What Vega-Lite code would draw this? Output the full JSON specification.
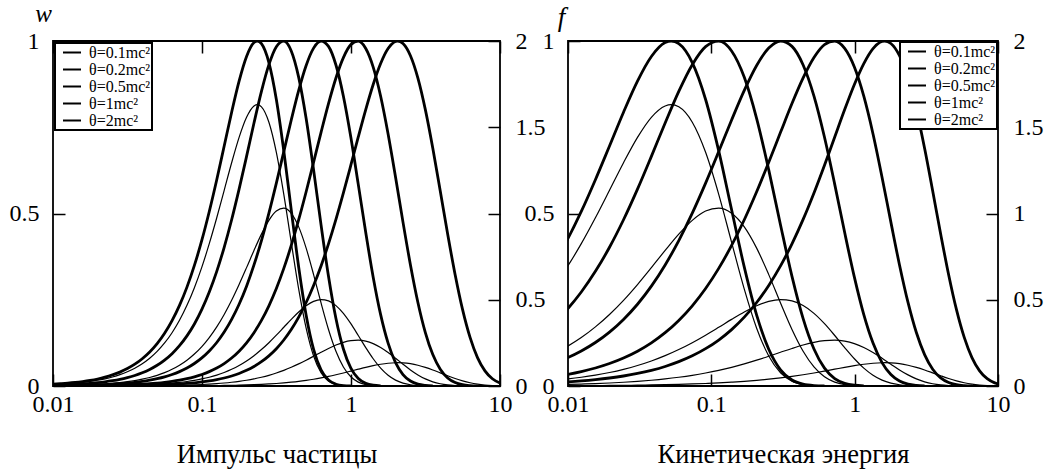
{
"$schema":"https://vega.github.io/schema/vega-lite/v6.json",
"padding":{"left":8,"top":0,"right":4,"bottom":4},
"background":"white",
"data":{"values":[
{"t":"0.1","p":0.009976,"e":0.0000995,"g":0.0051,"h":0.0084},
{"t":"0.1","p":0.01119,"e":0.000125,"g":0.0065,"h":0.0105},
{"t":"0.1","p":0.01256,"e":0.000158,"g":0.0081,"h":0.0133},
{"t":"0.1","p":0.01409,"e":0.000199,"g":0.0102,"h":0.0167},
{"t":"0.1","p":0.01581,"e":0.00025,"g":0.0129,"h":0.021},
{"t":"0.1","p":0.01774,"e":0.000315,"g":0.0162,"h":0.0264},
{"t":"0.1","p":0.01991,"e":0.000396,"g":0.0203,"h":0.0332},
{"t":"0.1","p":0.02233,"e":0.000499,"g":0.0255,"h":0.0417},
{"t":"0.1","p":0.02506,"e":0.000628,"g":0.0321,"h":0.0523},
{"t":"0.1","p":0.02812,"e":0.00079,"g":0.0402,"h":0.0656},
{"t":"0.1","p":0.03155,"e":0.000994,"g":0.0505,"h":0.0823},
{"t":"0.1","p":0.0354,"e":0.001251,"g":0.0632,"h":0.1031},
{"t":"0.1","p":0.03972,"e":0.001575,"g":0.0791,"h":0.1289},
{"t":"0.1","p":0.04456,"e":0.001982,"g":0.0987,"h":0.161},
{"t":"0.1","p":0.05,"e":0.002494,"g":0.123,"h":0.2006},
{"t":"0.1","p":0.0561,"e":0.003137,"g":0.1529,"h":0.2493},
{"t":"0.1","p":0.06295,"e":0.003947,"g":0.1894,"h":0.3089},
{"t":"0.1","p":0.07063,"e":0.004964,"g":0.2336,"h":0.381},
{"t":"0.1","p":0.07925,"e":0.006241,"g":0.2866,"h":0.4675},
{"t":"0.1","p":0.08891,"e":0.007844,"g":0.3495,"h":0.5701},
{"t":"0.1","p":0.09976,"e":0.009856,"g":0.4226,"h":0.6893},
{"t":"0.1","p":0.1119,"e":0.01238,"g":0.5059,"h":0.8251},
{"t":"0.1","p":0.1256,"e":0.01553,"g":0.5979,"h":0.9752},
{"t":"0.1","p":0.1409,"e":0.01948,"g":0.6956,"h":1.1345},
{"t":"0.1","p":0.1581,"e":0.0244,"g":0.7936,"h":1.2943},
{"t":"0.1","p":0.1774,"e":0.03054,"g":0.8837,"h":1.4413},
{"t":"0.1","p":0.1991,"e":0.03817,"g":0.9551,"h":1.5578},
{"t":"0.1","p":0.2233,"e":0.04762,"g":0.9954,"h":1.6235},
{"t":"0.1","p":0.2351,"e":0.0525,"g":1,"h":1.631},
{"t":"0.1","p":0.2506,"e":0.05928,"g":0.9923,"h":1.6184},
{"t":"0.1","p":0.2812,"e":0.07364,"g":0.9375,"h":1.5291},
{"t":"0.1","p":0.3155,"e":0.09121,"g":0.8305,"h":1.3546},
{"t":"0.1","p":0.354,"e":0.1126,"g":0.6814,"h":1.1113},
{"t":"0.1","p":0.3972,"e":0.1385,"g":0.5107,"h":0.833},
{"t":"0.1","p":0.4456,"e":0.1698,"g":0.3444,"h":0.5617},
{"t":"0.1","p":0.5,"e":0.2071,"g":0.2054,"h":0.335},
{"t":"0.1","p":0.561,"e":0.2515,"g":0.1065,"h":0.1736},
{"t":"0.1","p":0.6295,"e":0.3039,"g":0.047,"h":0.0767},
{"t":"0.1","p":0.7063,"e":0.3653,"g":0.0173,"h":0.0282},
{"t":"0.1","p":0.7924,"e":0.437,"g":0.0052,"h":0.0085},
{"t":"0.1","p":0.8891,"e":0.5201,"g":0.0012,"h":0.002},
{"t":"0.1","p":0.9976,"e":0.6159,"g":0.0002,"h":0.0004},
{"t":"0.2","p":0.009976,"e":0.0000995,"g":0.0025,"h":0.0025},
{"t":"0.2","p":0.01119,"e":0.000125,"g":0.0031,"h":0.0032},
{"t":"0.2","p":0.01256,"e":0.000158,"g":0.0039,"h":0.004},
{"t":"0.2","p":0.01409,"e":0.000199,"g":0.0049,"h":0.005},
{"t":"0.2","p":0.01581,"e":0.00025,"g":0.0061,"h":0.0063},
{"t":"0.2","p":0.01774,"e":0.000315,"g":0.0077,"h":0.008},
{"t":"0.2","p":0.01991,"e":0.000396,"g":0.0097,"h":0.01},
{"t":"0.2","p":0.02233,"e":0.000499,"g":0.0122,"h":0.0126},
{"t":"0.2","p":0.02506,"e":0.000628,"g":0.0154,"h":0.0158},
{"t":"0.2","p":0.02812,"e":0.00079,"g":0.0193,"h":0.0199},
{"t":"0.2","p":0.03155,"e":0.000994,"g":0.0243,"h":0.025},
{"t":"0.2","p":0.0354,"e":0.001251,"g":0.0304,"h":0.0314},
{"t":"0.2","p":0.03972,"e":0.001575,"g":0.0382,"h":0.0394},
{"t":"0.2","p":0.04456,"e":0.001982,"g":0.0479,"h":0.0494},
{"t":"0.2","p":0.05,"e":0.002494,"g":0.06,"h":0.0619},
{"t":"0.2","p":0.0561,"e":0.003137,"g":0.0751,"h":0.0774},
{"t":"0.2","p":0.06295,"e":0.003947,"g":0.0937,"h":0.0966},
{"t":"0.2","p":0.07063,"e":0.004964,"g":0.1168,"h":0.1204},
{"t":"0.2","p":0.07925,"e":0.006241,"g":0.1452,"h":0.1497},
{"t":"0.2","p":0.08891,"e":0.007844,"g":0.1798,"h":0.1854},
{"t":"0.2","p":0.09976,"e":0.009856,"g":0.2219,"h":0.2288},
{"t":"0.2","p":0.1119,"e":0.01238,"g":0.2724,"h":0.2808},
{"t":"0.2","p":0.1256,"e":0.01553,"g":0.3323,"h":0.3426},
{"t":"0.2","p":0.1409,"e":0.01948,"g":0.4021,"h":0.4146},
{"t":"0.2","p":0.1581,"e":0.0244,"g":0.4819,"h":0.4968},
{"t":"0.2","p":0.1774,"e":0.03054,"g":0.5706,"h":0.5883},
{"t":"0.2","p":0.1991,"e":0.03817,"g":0.6656,"h":0.6862},
{"t":"0.2","p":0.2233,"e":0.04762,"g":0.7623,"h":0.786},
{"t":"0.2","p":0.2506,"e":0.05928,"g":0.854,"h":0.8805},
{"t":"0.2","p":0.2812,"e":0.07364,"g":0.9314,"h":0.9603},
{"t":"0.2","p":0.3155,"e":0.09121,"g":0.9836,"h":1.0141},
{"t":"0.2","p":0.354,"e":0.1126,"g":0.9997,"h":1.0307},
{"t":"0.2","p":0.3972,"e":0.1385,"g":0.9711,"h":1.0012},
{"t":"0.2","p":0.4456,"e":0.1698,"g":0.8947,"h":0.9224},
{"t":"0.2","p":0.5,"e":0.2071,"g":0.7753,"h":0.7993},
{"t":"0.2","p":0.561,"e":0.2515,"g":0.6263,"h":0.6457},
{"t":"0.2","p":0.6295,"e":0.3039,"g":0.4669,"h":0.4814},
{"t":"0.2","p":0.7063,"e":0.3653,"g":0.3179,"h":0.3278},
{"t":"0.2","p":0.7924,"e":0.437,"g":0.1955,"h":0.2015},
{"t":"0.2","p":0.8891,"e":0.5201,"g":0.1072,"h":0.1105},
{"t":"0.2","p":0.9976,"e":0.6159,"g":0.0518,"h":0.0534},
{"t":"0.2","p":1.119,"e":0.726,"g":0.0217,"h":0.0224},
{"t":"0.2","p":1.256,"e":0.8518,"g":0.0078,"h":0.008},
{"t":"0.2","p":1.409,"e":0.9953,"g":0.0023,"h":0.0024},
{"t":"0.2","p":1.581,"e":1.158,"g":0.0006,"h":0.0006},
{"t":"0.5","p":0.009976,"e":0.0000995,"g":0.0008,"h":0.0004},
{"t":"0.5","p":0.01256,"e":0.000158,"g":0.0013,"h":0.0007},
{"t":"0.5","p":0.01581,"e":0.00025,"g":0.0021,"h":0.0011},
{"t":"0.5","p":0.01774,"e":0.000315,"g":0.0027,"h":0.0013},
{"t":"0.5","p":0.01991,"e":0.000396,"g":0.0034,"h":0.0017},
{"t":"0.5","p":0.02233,"e":0.000499,"g":0.0042,"h":0.0021},
{"t":"0.5","p":0.02506,"e":0.000628,"g":0.0053,"h":0.0027},
{"t":"0.5","p":0.02812,"e":0.00079,"g":0.0067,"h":0.0034},
{"t":"0.5","p":0.03155,"e":0.000994,"g":0.0084,"h":0.0042},
{"t":"0.5","p":0.0354,"e":0.001251,"g":0.0106,"h":0.0053},
{"t":"0.5","p":0.03972,"e":0.001575,"g":0.0133,"h":0.0067},
{"t":"0.5","p":0.04456,"e":0.001982,"g":0.0168,"h":0.0084},
{"t":"0.5","p":0.05,"e":0.002494,"g":0.0211,"h":0.0106},
{"t":"0.5","p":0.0561,"e":0.003137,"g":0.0264,"h":0.0132},
{"t":"0.5","p":0.06295,"e":0.003947,"g":0.0332,"h":0.0166},
{"t":"0.5","p":0.07063,"e":0.004964,"g":0.0416,"h":0.0208},
{"t":"0.5","p":0.07925,"e":0.006241,"g":0.0521,"h":0.0261},
{"t":"0.5","p":0.08891,"e":0.007844,"g":0.0652,"h":0.0327},
{"t":"0.5","p":0.09976,"e":0.009856,"g":0.0814,"h":0.0408},
{"t":"0.5","p":0.1119,"e":0.01238,"g":0.1015,"h":0.0508},
{"t":"0.5","p":0.1256,"e":0.01553,"g":0.1261,"h":0.0632},
{"t":"0.5","p":0.1409,"e":0.01948,"g":0.1563,"h":0.0783},
{"t":"0.5","p":0.1581,"e":0.0244,"g":0.193,"h":0.0967},
{"t":"0.5","p":0.1774,"e":0.03054,"g":0.237,"h":0.1187},
{"t":"0.5","p":0.1991,"e":0.03817,"g":0.2894,"h":0.145},
{"t":"0.5","p":0.2233,"e":0.04762,"g":0.3509,"h":0.1758},
{"t":"0.5","p":0.2506,"e":0.05928,"g":0.4215,"h":0.2112},
{"t":"0.5","p":0.2812,"e":0.07364,"g":0.5011,"h":0.251},
{"t":"0.5","p":0.3155,"e":0.09121,"g":0.5881,"h":0.2946},
{"t":"0.5","p":0.354,"e":0.1126,"g":0.6795,"h":0.3404},
{"t":"0.5","p":0.3972,"e":0.1385,"g":0.7711,"h":0.3863},
{"t":"0.5","p":0.4456,"e":0.1698,"g":0.8569,"h":0.4293},
{"t":"0.5","p":0.5,"e":0.2071,"g":0.9291,"h":0.4655},
{"t":"0.5","p":0.561,"e":0.2515,"g":0.9794,"h":0.4907},
{"t":"0.5","p":0.6295,"e":0.3039,"g":0.9999,"h":0.5009},
{"t":"0.5","p":0.7063,"e":0.3653,"g":0.9844,"h":0.4932},
{"t":"0.5","p":0.7924,"e":0.437,"g":0.9304,"h":0.4661},
{"t":"0.5","p":0.8891,"e":0.5201,"g":0.8401,"h":0.4209},
{"t":"0.5","p":0.9976,"e":0.6159,"g":0.7209,"h":0.3612},
{"t":"0.5","p":1.119,"e":0.726,"g":0.5845,"h":0.2928},
{"t":"0.5","p":1.256,"e":0.8518,"g":0.4447,"h":0.2228},
{"t":"0.5","p":1.409,"e":0.9953,"g":0.3154,"h":0.158},
{"t":"0.5","p":1.581,"e":1.158,"g":0.2068,"h":0.1036},
{"t":"0.5","p":1.774,"e":1.343,"g":0.1243,"h":0.0623},
{"t":"0.5","p":1.991,"e":1.552,"g":0.0678,"h":0.034},
{"t":"0.5","p":2.233,"e":1.789,"g":0.0332,"h":0.0166},
{"t":"0.5","p":2.506,"e":2.055,"g":0.0144,"h":0.0072},
{"t":"0.5","p":2.812,"e":2.356,"g":0.0054,"h":0.0027},
{"t":"0.5","p":3.155,"e":2.694,"g":0.0018,"h":0.0009},
{"t":"0.5","p":3.54,"e":3.075,"g":0.0005,"h":0.0002},
{"t":"1","p":0.009976,"e":0.0000995,"g":0.0003,"h":0.0001},
{"t":"1","p":0.01256,"e":0.000158,"g":0.0005,"h":0.0001},
{"t":"1","p":0.01581,"e":0.00025,"g":0.0009,"h":0.0002},
{"t":"1","p":0.01991,"e":0.000396,"g":0.0014,"h":0.0004},
{"t":"1","p":0.02506,"e":0.000628,"g":0.0021,"h":0.0006},
{"t":"1","p":0.02812,"e":0.00079,"g":0.0027,"h":0.0007},
{"t":"1","p":0.03155,"e":0.000994,"g":0.0034,"h":0.0009},
{"t":"1","p":0.0354,"e":0.001251,"g":0.0043,"h":0.0011},
{"t":"1","p":0.03972,"e":0.001575,"g":0.0054,"h":0.0014},
{"t":"1","p":0.04456,"e":0.001982,"g":0.0067,"h":0.0018},
{"t":"1","p":0.05,"e":0.002494,"g":0.0085,"h":0.0023},
{"t":"1","p":0.0561,"e":0.003137,"g":0.0107,"h":0.0028},
{"t":"1","p":0.06295,"e":0.003947,"g":0.0134,"h":0.0036},
{"t":"1","p":0.07063,"e":0.004964,"g":0.0168,"h":0.0045},
{"t":"1","p":0.07925,"e":0.006241,"g":0.0211,"h":0.0056},
{"t":"1","p":0.08891,"e":0.007844,"g":0.0265,"h":0.0071},
{"t":"1","p":0.09976,"e":0.009856,"g":0.0332,"h":0.0088},
{"t":"1","p":0.1119,"e":0.01238,"g":0.0416,"h":0.0111},
{"t":"1","p":0.1256,"e":0.01553,"g":0.0521,"h":0.0139},
{"t":"1","p":0.1409,"e":0.01948,"g":0.0651,"h":0.0173},
{"t":"1","p":0.1581,"e":0.0244,"g":0.0811,"h":0.0216},
{"t":"1","p":0.1774,"e":0.03054,"g":0.1009,"h":0.0268},
{"t":"1","p":0.1991,"e":0.03817,"g":0.1251,"h":0.0333},
{"t":"1","p":0.2233,"e":0.04762,"g":0.1545,"h":0.0411},
{"t":"1","p":0.2506,"e":0.05928,"g":0.1901,"h":0.0506},
{"t":"1","p":0.2812,"e":0.07364,"g":0.2325,"h":0.0618},
{"t":"1","p":0.3155,"e":0.09121,"g":0.2826,"h":0.0752},
{"t":"1","p":0.354,"e":0.1126,"g":0.3409,"h":0.0907},
{"t":"1","p":0.3972,"e":0.1385,"g":0.4074,"h":0.1084},
{"t":"1","p":0.4456,"e":0.1698,"g":0.4819,"h":0.1282},
{"t":"1","p":0.5,"e":0.2071,"g":0.563,"h":0.1498},
{"t":"1","p":0.561,"e":0.2515,"g":0.6486,"h":0.1725},
{"t":"1","p":0.6295,"e":0.3039,"g":0.7352,"h":0.1956},
{"t":"1","p":0.7063,"e":0.3653,"g":0.8186,"h":0.2177},
{"t":"1","p":0.7924,"e":0.437,"g":0.8929,"h":0.2375},
{"t":"1","p":0.8891,"e":0.5201,"g":0.952,"h":0.2532},
{"t":"1","p":0.9976,"e":0.6159,"g":0.9895,"h":0.2632},
{"t":"1","p":1.119,"e":0.726,"g":0.9996,"h":0.2659},
{"t":"1","p":1.256,"e":0.8518,"g":0.9784,"h":0.2603},
{"t":"1","p":1.409,"e":0.9953,"g":0.9245,"h":0.2459},
{"t":"1","p":1.581,"e":1.158,"g":0.84,"h":0.2234},
{"t":"1","p":1.774,"e":1.343,"g":0.7306,"h":0.1943},
{"t":"1","p":1.991,"e":1.552,"g":0.6053,"h":0.161},
{"t":"1","p":2.233,"e":1.789,"g":0.475,"h":0.1264},
{"t":"1","p":2.506,"e":2.055,"g":0.3509,"h":0.0933},
{"t":"1","p":2.812,"e":2.356,"g":0.2422,"h":0.0644},
{"t":"1","p":3.155,"e":2.694,"g":0.155,"h":0.0412},
{"t":"1","p":3.54,"e":3.075,"g":0.0911,"h":0.0242},
{"t":"1","p":3.972,"e":3.503,"g":0.0487,"h":0.013},
{"t":"1","p":4.456,"e":3.984,"g":0.0234,"h":0.0062},
{"t":"1","p":5,"e":4.525,"g":0.01,"h":0.0027},
{"t":"1","p":5.61,"e":5.132,"g":0.0037,"h":0.001},
{"t":"1","p":6.295,"e":5.814,"g":0.0012,"h":0.0003},
{"t":"1","p":7.063,"e":6.58,"g":0.0003,"h":0.0001},
{"t":"2","p":0.009976,"e":0.0000995,"g":0.0001,"h":0},
{"t":"2","p":0.01581,"e":0.00025,"g":0.0003,"h":0},
{"t":"2","p":0.01991,"e":0.000396,"g":0.0005,"h":0.0001},
{"t":"2","p":0.02506,"e":0.000628,"g":0.0007,"h":0.0001},
{"t":"2","p":0.03155,"e":0.000994,"g":0.0012,"h":0.0002},
{"t":"2","p":0.03972,"e":0.001575,"g":0.0019,"h":0.0003},
{"t":"2","p":0.05,"e":0.002494,"g":0.003,"h":0.0004},
{"t":"2","p":0.0561,"e":0.003137,"g":0.0037,"h":0.0005},
{"t":"2","p":0.06295,"e":0.003947,"g":0.0047,"h":0.0006},
{"t":"2","p":0.07063,"e":0.004964,"g":0.0059,"h":0.0008},
{"t":"2","p":0.07925,"e":0.006241,"g":0.0074,"h":0.001},
{"t":"2","p":0.08891,"e":0.007844,"g":0.0093,"h":0.0013},
{"t":"2","p":0.09976,"e":0.009856,"g":0.0117,"h":0.0016},
{"t":"2","p":0.1119,"e":0.01238,"g":0.0147,"h":0.002},
{"t":"2","p":0.1256,"e":0.01553,"g":0.0185,"h":0.0025},
{"t":"2","p":0.1409,"e":0.01948,"g":0.0232,"h":0.0031},
{"t":"2","p":0.1581,"e":0.0244,"g":0.029,"h":0.0039},
{"t":"2","p":0.1774,"e":0.03054,"g":0.0363,"h":0.0049},
{"t":"2","p":0.1991,"e":0.03817,"g":0.0454,"h":0.0061},
{"t":"2","p":0.2233,"e":0.04762,"g":0.0566,"h":0.0076},
{"t":"2","p":0.2506,"e":0.05928,"g":0.0705,"h":0.0095},
{"t":"2","p":0.2812,"e":0.07364,"g":0.0874,"h":0.0118},
{"t":"2","p":0.3155,"e":0.09121,"g":0.1082,"h":0.0146},
{"t":"2","p":0.354,"e":0.1126,"g":0.1333,"h":0.018},
{"t":"2","p":0.3972,"e":0.1385,"g":0.1635,"h":0.0221},
{"t":"2","p":0.4456,"e":0.1698,"g":0.1995,"h":0.0269},
{"t":"2","p":0.5,"e":0.2071,"g":0.242,"h":0.0327},
{"t":"2","p":0.561,"e":0.2515,"g":0.2914,"h":0.0393},
{"t":"2","p":0.6295,"e":0.3039,"g":0.3481,"h":0.047},
{"t":"2","p":0.7063,"e":0.3653,"g":0.4121,"h":0.0556},
{"t":"2","p":0.7924,"e":0.437,"g":0.4829,"h":0.0652},
{"t":"2","p":0.8891,"e":0.5201,"g":0.5595,"h":0.0755},
{"t":"2","p":0.9976,"e":0.6159,"g":0.64,"h":0.0864},
{"t":"2","p":1.119,"e":0.726,"g":0.7218,"h":0.0974},
{"t":"2","p":1.256,"e":0.8518,"g":0.8012,"h":0.1082},
{"t":"2","p":1.409,"e":0.9953,"g":0.8739,"h":0.118},
{"t":"2","p":1.581,"e":1.158,"g":0.9346,"h":0.1262},
{"t":"2","p":1.774,"e":1.343,"g":0.978,"h":0.132},
{"t":"2","p":1.991,"e":1.552,"g":0.9988,"h":0.1348},
{"t":"2","p":2.058,"e":1.618,"g":1,"h":0.135},
{"t":"2","p":2.233,"e":1.789,"g":0.9928,"h":0.134},
{"t":"2","p":2.506,"e":2.055,"g":0.9573,"h":0.1292},
{"t":"2","p":2.812,"e":2.356,"g":0.8924,"h":0.1205},
{"t":"2","p":3.155,"e":2.694,"g":0.801,"h":0.1081},
{"t":"2","p":3.54,"e":3.075,"g":0.6891,"h":0.093},
{"t":"2","p":3.972,"e":3.503,"g":0.5654,"h":0.0763},
{"t":"2","p":4.456,"e":3.984,"g":0.4399,"h":0.0594},
{"t":"2","p":5,"e":4.525,"g":0.3225,"h":0.0435},
{"t":"2","p":5.61,"e":5.132,"g":0.2212,"h":0.0299},
{"t":"2","p":6.295,"e":5.814,"g":0.1408,"h":0.019},
{"t":"2","p":7.063,"e":6.58,"g":0.0824,"h":0.0111},
{"t":"2","p":7.924,"e":7.44,"g":0.0439,"h":0.0059},
{"t":"2","p":8.891,"e":8.405,"g":0.0211,"h":0.0028},
{"t":"2","p":9.976,"e":9.489,"g":0.009,"h":0.0012},
{"t":"2","p":11.19,"e":10.7,"g":0.0033,"h":0.0005}
]},
"hconcat":[
{
 "width":447,"height":345,
 "layer":[
  {"mark":{"type":"line","strokeWidth":1.2,"color":"#000","clip":true,"interpolate":"monotone"},
   "encoding":{
    "x":{"field":"p","type":"quantitative","scale":{"type":"log","domain":[0.01,10]},"axis":{"orient":"top","labels":false,"title":null,"values":[0.01,0.1,1,10]}},
    "y":{"field":"h","type":"quantitative","scale":{"domain":[0,2]},"axis":{"orient":"right","values":[0,0.5,1,1.5,2],"format":"~g","title":null,"labelAlign":"left","labelPadding":27,"labelExpr":"datum.value == 1 ? '' : datum.label"}},
    "detail":{"field":"t","type":"nominal"}}},
  {"mark":{"type":"line","strokeWidth":2.8,"clip":true,"interpolate":"monotone"},
   "encoding":{
    "x":{"field":"p","type":"quantitative","scale":{"type":"log","domain":[0.01,10]},"axis":{"orient":"bottom","values":[0.01,0.1,1,10],"format":"~g","title":"Импульс частицы","labelPadding":18,"titlePadding":25}},
    "y":{"field":"g","type":"quantitative","scale":{"domain":[0,1]},"axis":{"orient":"left","values":[0,0.5,1],"format":"~g","labelPadding":26,"title":"w","titleAngle":0,"titleFontStyle":"italic","titleFontSize":25,"titleX":-10,"titleY":-20,"titleAlign":"center","titleBaseline":"alphabetic"}},
    "stroke":{"field":"t","type":"nominal","scale":{"domain":["0.1","0.2","0.5","1","2"],"range":["#000","#000","#000","#000","#000"]},
      "legend":{"orient":"top-left","offset":2,"title":null,"labelExpr":"'θ=' + datum.label + 'mc²'"}}}}
 ],
 "resolve":{"scale":{"y":"independent"},"axis":{"x":"independent","y":"independent"}}
},
{
 "width":430,"height":345,
 "layer":[
  {"mark":{"type":"line","strokeWidth":1.2,"color":"#000","clip":true,"interpolate":"monotone"},
   "encoding":{
    "x":{"field":"e","type":"quantitative","scale":{"type":"log","domain":[0.01,10]},"axis":{"orient":"top","labels":false,"title":null,"values":[0.01,0.1,1,10]}},
    "y":{"field":"h","type":"quantitative","scale":{"domain":[0,2]},"axis":{"orient":"right","values":[0,0.5,1,1.5,2],"format":"~g","title":null,"labelAlign":"left","labelPadding":27}},
    "detail":{"field":"t","type":"nominal"}}},
  {"mark":{"type":"line","strokeWidth":2.8,"clip":true,"interpolate":"monotone"},
   "encoding":{
    "x":{"field":"e","type":"quantitative","scale":{"type":"log","domain":[0.01,10]},"axis":{"orient":"bottom","values":[0.01,0.1,1,10],"format":"~g","title":"Кинетическая энергия","labelPadding":18,"titlePadding":25}},
    "y":{"field":"g","type":"quantitative","scale":{"domain":[0,1]},"axis":{"orient":"left","values":[0,0.5,1],"format":"~g","labelPadding":26,"title":"f","titleAngle":0,"titleFontStyle":"italic","titleFontSize":27,"titleX":-7,"titleY":-16,"titleAlign":"center","titleBaseline":"alphabetic"}},
    "stroke":{"field":"t","type":"nominal","scale":{"domain":["0.1","0.2","0.5","1","2"],"range":["#000","#000","#000","#000","#000"]},
      "legend":{"orient":"top-right","offset":1,"title":null,"labelExpr":"'θ=' + datum.label + 'mc²'"}}}}
 ],
 "resolve":{"scale":{"y":"independent"},"axis":{"x":"independent","y":"independent"}}
}
],
"spacing":68,
"bounds":"flush",
"resolve":{"scale":{"stroke":"independent","x":"independent","y":"independent"},"legend":{"stroke":"independent"}},
"config":{
 "font":"Liberation Serif",
 "view":{"stroke":"#000","strokeWidth":1.8},
 "axis":{"grid":false,"domain":false,"tickColor":"#000","tickWidth":1.5,"tickSize":-12,"labelFont":"Liberation Serif","labelFontSize":24,"labelColor":"#000","titleFont":"Liberation Serif","titleFontSize":26.5,"titleFontWeight":"normal","titleColor":"#000","labelFlush":false,"labelOverlap":false},
 "legend":{"labelFont":"Liberation Serif","labelFontSize":16,"labelColor":"#000","symbolType":"M-0.2,0H2.2","symbolSize":225,"symbolStrokeWidth":2,"symbolStrokeColor":"#000","strokeColor":"#000","strokeWidth":2,"fillColor":"#fff","padding":1,"rowPadding":-4,"labelOffset":16,"cornerRadius":0}
}
}
